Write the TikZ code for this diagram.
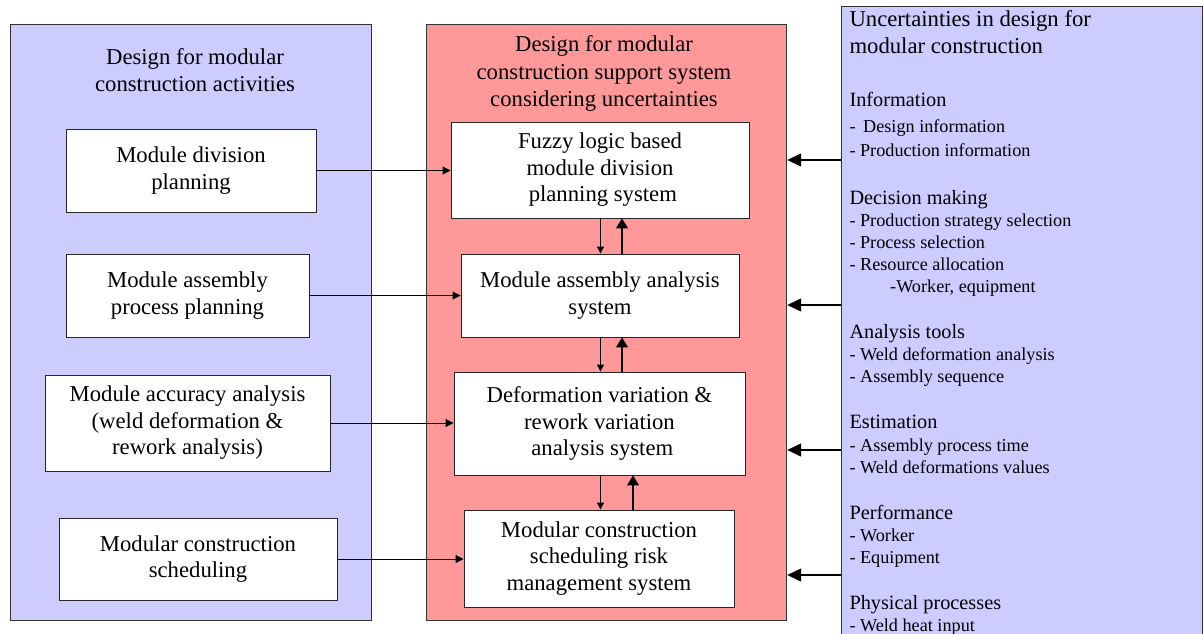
\documentclass[tikz,border=0pt]{standalone}
\usepackage{fontspec}
\setmainfont{Liberation Serif}
\usetikzlibrary{arrows.meta}
\definecolor{lav}{HTML}{CCCCFF}
\definecolor{salm}{HTML}{FF9999}
\newcommand\bigtxt{\fontsize{22.7}{26.5}\selectfont}
\newcommand\cattxt{\fontsize{20.3}{24}\selectfont}
\newcommand\itemtxt{\fontsize{18.2}{22}\selectfont}
\begin{document}
\begin{tikzpicture}[x=1pt,y=-1pt,
  panel/.style={draw=black!80, line width=1pt, inner sep=0pt},
  box/.style={draw=black!85, line width=0.9pt, fill=white, align=center, inner sep=0pt, font=\bigtxt},
  head/.style={anchor=base, inner sep=0pt, font=\bigtxt},
  rhead/.style={anchor=base west, inner sep=0pt, font=\bigtxt},
  rcat/.style={anchor=base west, inner sep=0pt, font=\cattxt},
  ritem/.style={anchor=base west, inner sep=0pt, font=\itemtxt},
  feed/.style={draw, line width=1pt, -{Triangle[length=8pt,width=8pt]}},
  bigarr/.style={draw, line width=1.3pt, -{Triangle[length=14pt,width=13pt]}},
  dnarr/.style={draw, line width=1pt, -{Triangle[length=7pt,width=7pt]}},
  uparr/.style={draw, line width=1.4pt, -{Triangle[length=10pt,width=12pt]}}]
\useasboundingbox (0,0) rectangle (1204,634);
\clip (0,0) rectangle (1204,634);
\fill[white] (0,0) rectangle (1204,634);

% panels
\node[panel, fill=lav, minimum width=361, minimum height=595] (L) at (191,322.5) {};
\node[panel, fill=salm, minimum width=360, minimum height=595] (M) at (606.7,322.5) {};
\node[panel, fill=lav, minimum width=361, minimum height=700, anchor=north west] (R) at (841,6) {};

% left heading
\node[head] (lh1) at (195,65) {Design for modular};
\node[head] (lh2) at (195,92) {construction activities};

% middle heading
\node[head] (mh1) at (604,52) {Design for modular};
\node[head] (mh2) at (604,79) {construction support system};
\node[head] (mh3) at (604,106.5) {considering uncertainties};

% left boxes
\node[box, minimum width=250, minimum height=83] (l1) at (191,170.5) {Module division\\planning};
\node[box, minimum width=243, minimum height=83] (l2) at (187.5,295.5) {Module assembly\\process planning};
\node[box, minimum width=285, minimum height=96] (l3) at (187.5,423) {Module accuracy analysis\\(weld deformation \&\\rework analysis)};
\node[box, minimum width=278, minimum height=82] (l4) at (198,559) {Modular construction\\scheduling};

% middle boxes
\node[box, minimum width=298, minimum height=96] (m1) at (600,170) {Fuzzy logic based\\module division\\\ planning system};
\node[box, minimum width=278, minimum height=83] (m2) at (600,295.5) {Module assembly analysis\\system};
\node[box, minimum width=291, minimum height=103] (m3) at (599.5,423.5) {Deformation variation \&\\rework variation\\\ analysis system};
\node[box, minimum width=270, minimum height=97] (m4) at (599,558.5) {Modular construction\\scheduling risk\\management system};

% left -> middle
\draw[feed] (l1.east) -- (l1.east -| m1.west);
\draw[feed] (l2.east) -- (l2.east -| m2.west);
\draw[feed] (l3.east) -- (l3.east -| m3.west);
\draw[feed] (l4.east) -- (l4.east -| m4.west);

% vertical arrows
\coordinate (dn) at (600.5,0);
\coordinate (up1) at (622,0);
\coordinate (up2) at (633,0);
\draw[dnarr] (m1.south -| dn) -- (m2.north -| dn);
\draw[uparr] (m2.north -| up1) -- (m1.south -| up1);
\draw[dnarr] (m2.south -| dn) -- (m3.north -| dn);
\draw[uparr] (m3.north -| up1) -- (m2.south -| up1);
\draw[dnarr] (m3.south -| dn) -- (m4.north -| dn);
\draw[uparr] (m4.north -| up2) -- (m3.south -| up2);

% right -> middle
\coordinate (r1) at (841,160);
\coordinate (r2) at (841,305);
\coordinate (r3) at (841,450);
\coordinate (r4) at (841,575);
\draw[bigarr] (r1) -- (r1 -| M.east);
\draw[bigarr] (r2) -- (r2 -| M.east);
\draw[bigarr] (r3) -- (r3 -| M.east);
\draw[bigarr] (r4) -- (r4 -| M.east);

% right panel text
\node[rhead] (t1) at (849.3,26.7) {Uncertainties in design for};
\node[rhead] (t2) at (849.3,53.3) {modular construction};
\node[rcat] (t3) at (849.3,106) {Information};
\node[ritem] (t4) at (849.3,132.7) {-\ \,Design information};
\node[ritem] (t5) at (849.3,156) {- Production information};
\node[rcat] (t6) at (849.3,204) {Decision making};
\node[ritem] (t7) at (849.3,226.7) {- Production strategy selection};
\node[ritem] (t8) at (849.3,248.3) {- Process selection};
\node[ritem] (t9) at (849.3,270.7) {- Resource allocation};
\node[ritem] (t10) at (890,292.7) {-Worker, equipment};
\node[rcat] (t11) at (849.3,338.3) {Analysis tools};
\node[ritem] (t12) at (849.3,360.7) {- Weld deformation analysis};
\node[ritem] (t13) at (849.3,382.7) {- Assembly sequence};
\node[rcat] (t14) at (849.3,428.3) {Estimation};
\node[ritem] (t15) at (849.3,451.7) {- Assembly process time};
\node[ritem] (t16) at (849.3,473.3) {- Weld deformations values};
\node[rcat] (t17) at (849.3,519.3) {Performance};
\node[ritem] (t18) at (849.3,541.7) {- Worker};
\node[ritem] (t19) at (849.3,563.3) {- Equipment};
\node[rcat] (t20) at (849.3,609.3) {Physical processes};
\node[ritem] (t21) at (849.3,631.7) {- Weld heat input};
\end{tikzpicture}
\end{document}
